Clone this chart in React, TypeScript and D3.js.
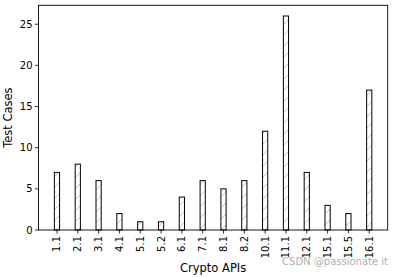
import React from "react";
import * as d3 from "d3";

const categories = ["1.1","2.1","3.1","4.1","5.1","5.2","6.1","7.1","8.1","8.2","10.1","11.1","12.1","15.1","15.5","16.1"];
const values = [7, 8, 6, 2, 1, 1, 4, 6, 5, 6, 12, 26, 7, 3, 2, 17];
const yTicks = [0, 5, 10, 15, 20, 25];

const W = 395, H = 277;
const L = 38.5, R = 387.7, T = 5.3, B = 230;
const FONT = "DejaVu Sans, sans-serif";

export default function App() {
  const barW = 0.25;
  const n = categories.length;
  const span = (n - 1) + barW;
  const x = d3.scaleLinear().domain([-barW / 2 - span * 0.05, n - 1 + barW / 2 + span * 0.05]).range([L, R]);
  const y = d3.scaleLinear().domain([0, 26 * 1.05]).range([B, T]);
  return (
    <svg width={W} height={H} style={{ position: "absolute", left: 0, top: 0, background: "#fff" }}>
      <defs>
        <pattern id="hatch" patternUnits="userSpaceOnUse" width={11} height={11}>
          <line x1={0} y1={11} x2={11} y2={0} stroke="#aaaaaa" strokeWidth={0.7} />
          <line x1={-1} y1={1} x2={1} y2={-1} stroke="#aaaaaa" strokeWidth={0.7} />
          <line x1={10} y1={12} x2={12} y2={10} stroke="#aaaaaa" strokeWidth={0.7} />
        </pattern>
      </defs>
      <rect x={0} y={0} width={W} height={H} fill="#fff" />
      {values.map((v, i) => (
        <g key={categories[i]}>
          <rect x={x(i - barW / 2)} y={y(v)} width={x(barW) - x(0)} height={y(0) - y(v)} fill="#fff" />
          <rect x={x(i - barW / 2)} y={y(v)} width={x(barW) - x(0)} height={y(0) - y(v)} fill="url(#hatch)" stroke="#000" strokeWidth={1} />
        </g>
      ))}
      <rect x={L} y={T} width={R - L} height={B - T} fill="none" stroke="#000" strokeWidth={0.9} />
      {yTicks.map(t => (
        <g key={t}>
          <line x1={L - 3.5} x2={L} y1={y(t)} y2={y(t)} stroke="#000" strokeWidth={0.8} />
          <text x={L - 6} y={y(t)} dy="0.35em" textAnchor="end" fontFamily={FONT} fontSize={10} fill="#000">{t}</text>
        </g>
      ))}
      {categories.map((c, i) => (
        <g key={c}>
          <line x1={x(i)} x2={x(i)} y1={B} y2={B + 3.5} stroke="#000" strokeWidth={0.8} />
          <text transform={`translate(${x(i)},${B + 6}) rotate(-90)`} dy="0.35em" textAnchor="end" fontFamily={FONT} fontSize={10} fill="#000">{c}</text>
        </g>
      ))}
      <text x={(L + R) / 2} y={272} textAnchor="middle" fontFamily={FONT} fontSize={11.5} fill="#000">Crypto APIs</text>
      <text transform={`translate(12,${(T + B) / 2}) rotate(-90)`} textAnchor="middle" fontFamily={FONT} fontSize={11.5} fill="#000">Test Cases</text>
      <text x={388} y={265} textAnchor="end" fontFamily={FONT} fontSize={10} fill="#b0b0b0">CSDN @passionate it</text>
    </svg>
  );
}
